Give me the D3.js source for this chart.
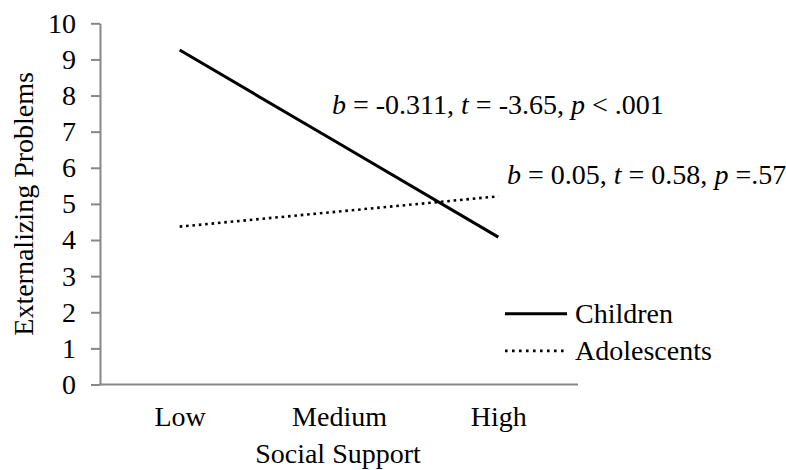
<!DOCTYPE html>
<html><head><meta charset="utf-8">
<script src="https://d3js.org/d3.v7.min.js"></script>
<style>body{margin:0;background:#fff}svg{display:block}text{font-family:"Liberation Serif","Times New Roman",serif;fill:#000}</style>
</head><body>
<svg id="c" width="786" height="470"></svg>
<script>
const categories = ["Low", "Medium", "High"];
const children = [9.26, 6.67, 4.08];
const adolescents = [4.37, 4.79, 5.21];
const yTicks = [0,1,2,3,4,5,6,7,8,9,10];
const seriesNames = ["Children", "Adolescents"];
const annotations = ["b = -0.311, t = -3.65, p < .001", "b = 0.05, t = 0.58, p =.57"];

(function () {
const svg = d3.select("#c");
const mLeft = 100, mRight = 578, mTop = 23.3, mBottom = 384.5;
const x = d3.scalePoint().domain(categories).range([mLeft, mRight]).padding(0.5);
const y = d3.scaleLinear().domain([0, 10]).range([mBottom, mTop]);
const fs = 28;
const axisColor = "#878787";

const ya = svg.append("g").attr("transform", `translate(${mLeft},0)`)
  .call(d3.axisLeft(y).tickValues(yTicks).tickSize(9).tickSizeOuter(0).tickPadding(15));
ya.select(".domain").attr("stroke", axisColor).attr("stroke-width", 2);
ya.selectAll(".tick line").attr("stroke", axisColor).attr("stroke-width", 2);
ya.selectAll(".tick text").attr("font-size", fs).attr("font-family", "Liberation Serif").attr("fill", "#000");

const xa = svg.append("g").attr("transform", `translate(0,${mBottom})`)
  .call(d3.axisBottom(x).tickSize(0).tickSizeOuter(0).tickPadding(21.6));
xa.select(".domain").attr("stroke", axisColor).attr("stroke-width", 2)
  .attr("d", `M${mLeft - 1},0H${mRight}`);
xa.selectAll(".tick text").attr("font-size", fs).attr("font-family", "Liberation Serif").attr("fill", "#000");

svg.append("text").attr("x", (mLeft + mRight) / 2 - 1).attr("y", 463).attr("text-anchor", "middle")
  .attr("font-size", fs).text("Social Support");
svg.append("text").attr("transform", `translate(33,${(mTop + mBottom) / 2}) rotate(-90)`)
  .attr("text-anchor", "middle").attr("font-size", fs).text("Externalizing Problems");

const line = d3.line().x((d, i) => x(categories[i])).y(d => y(d));
svg.append("path").datum(children).attr("d", line).attr("fill", "none")
  .attr("stroke", "#000").attr("stroke-width", 3);
svg.append("path").datum(adolescents).attr("d", line).attr("fill", "none")
  .attr("stroke", "#000").attr("stroke-width", 2.6).attr("stroke-dasharray", "2.6,3.8");

function annot(str, ax, ay) {
  const t = svg.append("text").attr("x", ax).attr("y", ay).attr("font-size", fs);
  str.split(/(\b[btp]\b)/).forEach(p => {
    if (p === "") return;
    const s = t.append("tspan").text(p);
    if (/^[btp]$/.test(p)) s.attr("font-style", "italic");
  });
}
annot(annotations[0], 332, 114);
annot(annotations[1], 507, 184);

const lg = svg.append("g");
lg.append("line").attr("x1", 505).attr("x2", 567).attr("y1", y(1.96)).attr("y2", y(1.96))
  .attr("stroke", "#000").attr("stroke-width", 3);
lg.append("text").attr("x", 575).attr("y", y(1.96) + 9).attr("font-size", fs).text(seriesNames[0]);
lg.append("line").attr("x1", 505).attr("x2", 564).attr("y1", y(0.93)).attr("y2", y(0.93))
  .attr("stroke", "#000").attr("stroke-width", 2.6).attr("stroke-dasharray", "2.6,4.4");
lg.append("text").attr("x", 575).attr("y", y(0.93) + 9).attr("font-size", fs).text(seriesNames[1]);
})();
</script>
</body></html>
